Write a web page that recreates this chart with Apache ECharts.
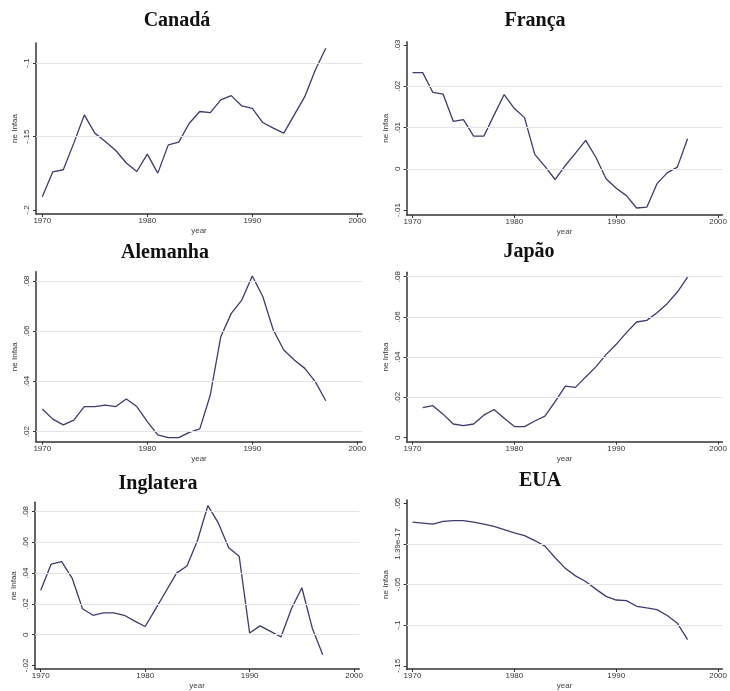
<!DOCTYPE html>
<html>
<head>
<meta charset="utf-8">
<script src="https://cdn.jsdelivr.net/npm/echarts@6/dist/echarts.min.js"></script>
<style>
html,body{margin:0;padding:0;background:#fff;}
#c{width:730px;height:691px;}
</style>
</head>
<body>
<div id="c"></div>
<script>
// ---- data ----
const years = [1970,1971,1972,1973,1974,1975,1976,1977,1978,1979,1980,1981,1982,1983,1984,1985,1986,1987,1988,1989,1990,1991,1992,1993,1994,1995,1996,1997];
const japaoYears = [1971,1972,1973,1974,1975,1976,1977,1978,1979,1980,1981,1982,1983,1984,1985,1986,1987,1988,1989,1990,1991,1992,1993,1994,1995,1996,1997];

const canada = [-0.191,-0.174,-0.1726,-0.1545,-0.1353,-0.1477,-0.1534,-0.1595,-0.168,-0.1738,-0.162,-0.1749,-0.1557,-0.1538,-0.141,-0.133,-0.1337,-0.1251,-0.1222,-0.1292,-0.1308,-0.1405,-0.1443,-0.1477,-0.1353,-0.1229,-0.1048,-0.090];
const franca = [0.0233,0.0233,0.0185,0.0181,0.0115,0.0119,0.0079,0.0079,0.0130,0.0180,0.0146,0.0124,0.0035,0.0006,-0.0026,0.0008,0.0038,0.0069,0.0028,-0.0024,-0.0047,-0.0065,-0.0095,-0.0093,-0.0036,-0.0010,0.0004,0.0073];
const alemanha = [0.0290,0.0250,0.0227,0.0246,0.0300,0.0300,0.0306,0.0300,0.0330,0.0300,0.0240,0.0187,0.0176,0.0176,0.0197,0.0211,0.0346,0.0578,0.0671,0.0724,0.0820,0.0738,0.0605,0.0525,0.0485,0.0452,0.0399,0.0323];
const japao = [0.0149,0.0159,0.0117,0.0068,0.0060,0.0068,0.0112,0.0140,0.0096,0.0055,0.0055,0.0083,0.0107,0.0179,0.0256,0.0250,0.0302,0.0352,0.0413,0.0464,0.0522,0.0575,0.0583,0.0621,0.0666,0.0724,0.0798];
const inglaterra = [0.0288,0.0459,0.0474,0.0368,0.0168,0.0126,0.0141,0.0141,0.0126,0.0088,0.0053,0.0168,0.0284,0.0400,0.0446,0.0610,0.0838,0.0726,0.0564,0.0509,0.0011,0.0057,0.0021,-0.0015,0.0168,0.0305,0.0042,-0.0131];
const eua = [0.0268,0.0256,0.0244,0.0276,0.0285,0.0285,0.0268,0.0244,0.0215,0.0175,0.0134,0.0102,0.0041,-0.0028,-0.0171,-0.0301,-0.0394,-0.0463,-0.0557,-0.0646,-0.0691,-0.0699,-0.0768,-0.0789,-0.0809,-0.0882,-0.0976,-0.1179];

const xTicks = [1970,1980,1990,2000];
const xTickLabels = ['1970','1980','1990','2000'];

const canadaTicks = [-0.2,-0.15,-0.1];
const canadaTickLabels = ['-.2','-.15','-.1'];
const canadaGrid = [-0.15,-0.1];

const francaTicks = [-0.01,0,0.01,0.02,0.03];
const francaTickLabels = ['-.01','0','.01','.02','.03'];
const francaGrid = [0,0.01,0.02];

const alemanhaTicks = [0.02,0.04,0.06,0.08];
const alemanhaTickLabels = ['.02','.04','.06','.08'];
const alemanhaGrid = [0.02,0.04,0.06,0.08];

const japaoTicks = [0,0.02,0.04,0.06,0.08];
const japaoTickLabels = ['0','.02','.04','.06','.08'];
const japaoGrid = [0.02,0.04,0.06,0.08];

const inglaterraTicks = [-0.02,0,0.02,0.04,0.06,0.08];
const inglaterraTickLabels = ['-.02','0','.02','.04','.06','.08'];
const inglaterraGrid = [0,0.02,0.04,0.06,0.08];

const euaTicks = [-0.15,-0.1,-0.05,0,0.05];
const euaTickLabels = ['-.15','-.1','-.05','1.39e-17','.05'];
const euaGrid = [-0.1,-0.05,0];

const titles = ['Canadá','França','Alemanha','Japão','Inglatera','EUA'];
const yTitle = 'ne Infaa';
const xTitle = 'year';

// ---- layout ----
const panels = [
  {title:titles[0], x:years, y:canada, ticks:canadaTicks, labels:canadaTickLabels, grid:canadaGrid,
   left:36, top:43, width:326, height:171, xmin:1969.4, xmax:2000.45, ymin:-0.2027, ymax:-0.0864, tx:177, ty:21},
  {title:titles[1], x:years, y:franca, ticks:francaTicks, labels:francaTickLabels, grid:francaGrid,
   left:406.7, top:41.7, width:323.5, height:173.3, xmin:1969.43, xmax:2000.42, ymin:-0.0112, ymax:0.0308, tx:535, ty:21},
  {title:titles[2], x:years, y:alemanha, ticks:alemanhaTicks, labels:alemanhaTickLabels, grid:alemanhaGrid,
   left:36, top:271.7, width:326, height:170, xmin:1969.4, xmax:2000.45, ymin:0.016, ymax:0.0837, tx:165, ty:253},
  {title:titles[3], x:japaoYears, y:japao, ticks:japaoTicks, labels:japaoTickLabels, grid:japaoGrid,
   left:406.7, top:272.3, width:323.5, height:169.4, xmin:1969.43, xmax:2000.42, ymin:-0.002, ymax:0.0822, tx:529, ty:252},
  {title:titles[4], x:years, y:inglaterra, ticks:inglaterraTicks, labels:inglaterraTickLabels, grid:inglaterraGrid,
   left:35, top:502.3, width:324.3, height:170.7, xmin:1969.45, xmax:2000.5, ymin:-0.0223, ymax:0.086, tx:158, ty:484},
  {title:titles[5], x:years, y:eua, ticks:euaTicks, labels:euaTickLabels, grid:euaGrid,
   left:406.7, top:500, width:323.5, height:171, xmin:1969.43, xmax:2000.42, ymin:-0.154, ymax:0.054, tx:540, ty:481}
];

const axisColor = '#333';
const lineColor = '#3c3c6e';
const labelFont = 'Liberation Sans';

const option = {
  animation:false,
  backgroundColor:'#fff',
  grid:[], xAxis:[], yAxis:[], series:[], graphic:[]
};

panels.forEach((p,i)=>{
  option.grid.push({left:p.left, top:p.top, width:p.width, height:p.height, containLabel:false});
  option.xAxis.push({
    type:'value', gridIndex:i, min:p.xmin, max:p.xmax,
    name:xTitle, nameLocation:'middle', nameGap:13,
    nameTextStyle:{fontSize:8, color:'#444', fontFamily:labelFont},
    axisLine:{show:true, onZero:false, lineStyle:{color:axisColor, width:1.5}},
    axisTick:{show:true, length:3, lineStyle:{color:axisColor, width:1}, customValues:xTicks},
    axisLabel:{fontSize:8, color:'#333', fontFamily:labelFont, margin:3, customValues:xTicks,
      formatter:(v)=>xTickLabels[xTicks.indexOf(v)] ?? String(v)},
    splitLine:{show:false}
  });
  option.yAxis.push({
    type:'value', gridIndex:i, min:p.ymin, max:p.ymax,
    name:yTitle, nameLocation:'middle', nameGap:17, nameRotate:90,
    nameTextStyle:{fontSize:8, color:'#333', fontFamily:labelFont},
    axisLine:{show:true, onZero:false, lineStyle:{color:axisColor, width:1.5}},
    axisTick:{show:true, length:3, lineStyle:{color:axisColor, width:1}, customValues:p.ticks},
    axisLabel:{fontSize:8, color:'#333', fontFamily:labelFont, margin:5, rotate:90, customValues:p.ticks,
      formatter:(v)=>{
        let k = p.ticks.findIndex(t=>Math.abs(t-v)<1e-9);
        return k>=0 ? p.labels[k] : '';
      }},
    splitLine:{show:false}
  });
  option.series.push({
    type:'line', xAxisIndex:i, yAxisIndex:i,
    data:p.x.map((yr,k)=>[yr,p.y[k]]),
    symbol:'none', smooth:false,
    lineStyle:{color:lineColor, width:1.3},
    silent:true,
    markLine:{
      silent:true, symbol:'none', animation:false,
      label:{show:false},
      lineStyle:{color:'#e4e4e4', width:1, type:'solid'},
      data:p.grid.map(v=>({yAxis:v}))
    },
    z:3
  });
  option.graphic.push({
    type:'text', x:p.tx, y:p.ty,
    style:{text:p.title, x:0, y:0, align:'center', verticalAlign:'middle',
      font:'bold 20px "Liberation Serif", "Times New Roman", serif', fill:'#111'}
  });
});

const chart = echarts.init(document.getElementById('c'), null, {renderer:'canvas'});
chart.setOption(option);
</script>
</body>
</html>
